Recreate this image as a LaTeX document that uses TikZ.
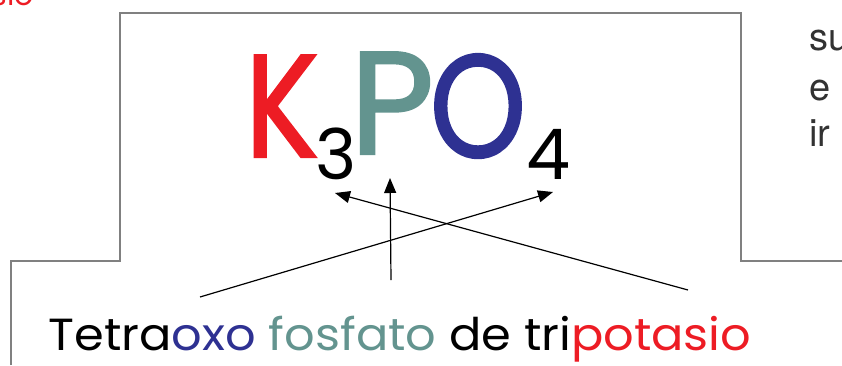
\documentclass[tikz,border=0pt]{standalone}
\usepackage{fontspec}
\usepackage{xcolor}
\usepackage{graphicx}
\usetikzlibrary{arrows.meta,positioning}
\newfontfamily\comicfont{Poppins}
\newfontfamily\comicbold[FakeBold=1.6]{Poppins}
\setsansfont{TeX Gyre Heros}
\definecolor{kred}{RGB}{237,28,36}
\definecolor{pteal}{RGB}{99,148,143}
\definecolor{oblue}{RGB}{46,49,146}
\definecolor{framegray}{RGB}{128,128,128}
\definecolor{textgray}{RGB}{50,50,50}

\begin{document}
\begin{tikzpicture}[x=1pt, y=-1pt,
    frame/.style={draw=framegray, line width=1.4pt},
    elem/.style={anchor=base, inner sep=0pt, font=\comicbold\fontsize{146}{146}\selectfont},
    subidx/.style={anchor=base, inner sep=0pt, font=\comicfont\fontsize{70}{70}\selectfont},
    sidetext/.style={anchor=base west, inner sep=0pt, textgray, font=\sffamily\fontsize{38}{38}\selectfont},
    pointer/.style={-{Triangle[length=15pt, width=12pt]}, line width=1.2pt}]
    \useasboundingbox (0,0) rectangle (842,365);

    % outline of the slide box
    \draw[frame] (11,365) -- (11,261) -- (120,261) -- (120,13) -- (741,13) -- (741,261) -- (842,261);

    % formula
    \node[elem, kred] (k) at (282,157) {\scalebox{0.84}[1]{K}};
    \node[subidx] (sub3) at (336,179) {3};
    \node[elem, pteal] (p) at (392,154) {\scalebox{1.0}[1]{P}};
    \node[elem, oblue] (o) at (478,157) {\scalebox{0.84}[1]{O}};
    \node[subidx] (sub4) at (549,179) {4};

    % name
    \node[anchor=base, inner sep=0pt, font=\comicfont\fontsize{45}{45}\selectfont] (name) at (400,350)
        {\scalebox{1.064}[1]{Tetra\textcolor{oblue}{oxo} \textcolor{pteal}{fosfato} de tri\textcolor{kred}{potasio}}};

    % cut text at the edges
    \node[anchor=base east, inner sep=0pt, kred, font=\comicfont\fontsize{30}{30}\selectfont] (prev) at (34,5) {sio};
    \node[sidetext] (line1) at (809,50) {su};
    \node[sidetext] (line2) at (809,100) {e};
    \node[sidetext] (line3) at (809,146) {ir};

    % arrows
    \coordinate (fromoxo) at (200,297);
    \coordinate (fromfos) at (391,280);
    \coordinate (frompot) at (688,290);
    \coordinate (to3) at (335,193);
    \coordinate (toP) at (390,178);
    \coordinate (to4) at (553,192);
    \draw[pointer] (fromoxo) -- (to4);
    \draw[pointer] (fromfos) -- (toP);
    \draw[pointer] (frompot) -- (to3);
\end{tikzpicture}
\end{document}
